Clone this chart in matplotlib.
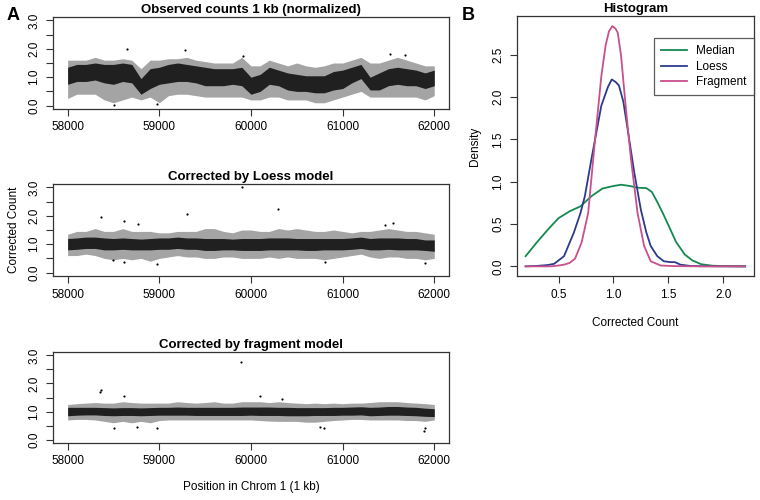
import matplotlib
matplotlib.use("Agg")
import matplotlib.pyplot as plt
import numpy as np

plt.rcParams["font.family"] = ["Liberation Sans", "DejaVu Sans"]

# positions (kb) where the scatter envelopes were read, every 100 kb
positions = list(range(58000, 62001, 100))

# observed counts: dense core band and sparse outer band
obs_core_lo = [0.75, 0.85, 0.85, 0.9, 0.8, 0.75, 0.85, 0.8, 0.4, 0.6, 0.75, 0.8, 0.85, 0.85,
               0.8, 0.7, 0.7, 0.7, 0.75, 0.7, 0.4, 0.5, 0.75, 0.7, 0.55, 0.5, 0.5, 0.45,
               0.45, 0.55, 0.6, 0.8, 0.95, 0.55, 0.55, 0.7, 0.75, 0.7, 0.7, 0.6, 0.7]
obs_core_hi = [1.35, 1.45, 1.45, 1.5, 1.45, 1.45, 1.5, 1.45, 0.95, 1.3, 1.35, 1.45, 1.5, 1.45,
               1.4, 1.35, 1.3, 1.3, 1.3, 1.35, 1.0, 1.1, 1.35, 1.25, 1.15, 1.1, 1.05, 1.05,
               1.05, 1.2, 1.25, 1.35, 1.45, 1.0, 1.15, 1.3, 1.35, 1.3, 1.25, 1.15, 1.25]
obs_outer_lo = [0.25, 0.4, 0.4, 0.4, 0.2, 0.1, 0.2, 0.3, 0.2, 0.3, 0.1, 0.35, 0.4, 0.4,
                0.35, 0.3, 0.3, 0.3, 0.3, 0.3, 0.2, 0.2, 0.3, 0.3, 0.2, 0.2, 0.2, 0.1,
                0.1, 0.2, 0.3, 0.4, 0.5, 0.3, 0.3, 0.3, 0.3, 0.3, 0.3, 0.2, 0.35]
obs_outer_hi = [1.6, 1.6, 1.6, 1.7, 1.6, 1.6, 1.65, 1.6, 1.3, 1.6, 1.6, 1.65, 1.65, 1.7,
                1.6, 1.55, 1.5, 1.5, 1.5, 1.7, 1.4, 1.4, 1.6, 1.5, 1.4, 1.5, 1.4, 1.35,
                1.4, 1.5, 1.5, 1.6, 1.7, 1.5, 1.5, 1.6, 1.7, 1.6, 1.5, 1.4, 1.4]
obs_out_x = [58650, 59280, 58510, 58980, 61520, 61680, 59910]
obs_out_y = [2.0, 1.95, 0.02, 0.05, 1.82, 1.78, 1.75]

# loess corrected
loe_core_lo = [0.8, 0.82, 0.85, 0.85, 0.8, 0.8, 0.82, 0.8, 0.8, 0.8, 0.82, 0.82, 0.85, 0.82,
               0.82, 0.78, 0.78, 0.8, 0.8, 0.78, 0.78, 0.78, 0.8, 0.8, 0.8, 0.8, 0.78, 0.78,
               0.8, 0.8, 0.8, 0.82, 0.85, 0.8, 0.8, 0.82, 0.8, 0.8, 0.8, 0.78, 0.75]
loe_core_hi = [1.2, 1.22, 1.25, 1.25, 1.22, 1.2, 1.22, 1.2, 1.18, 1.2, 1.22, 1.22, 1.25, 1.22,
               1.22, 1.2, 1.2, 1.2, 1.18, 1.2, 1.2, 1.2, 1.22, 1.22, 1.22, 1.2, 1.2, 1.2,
               1.2, 1.2, 1.2, 1.22, 1.25, 1.2, 1.22, 1.22, 1.22, 1.2, 1.2, 1.15, 1.15]
loe_outer_lo = [0.6, 0.6, 0.65, 0.6, 0.5, 0.45, 0.5, 0.45, 0.5, 0.4, 0.5, 0.55, 0.6, 0.55,
                0.55, 0.5, 0.5, 0.55, 0.55, 0.5, 0.5, 0.5, 0.55, 0.5, 0.55, 0.5, 0.5, 0.5,
                0.45, 0.5, 0.55, 0.6, 0.65, 0.55, 0.5, 0.55, 0.55, 0.5, 0.5, 0.45, 0.5]
loe_outer_hi = [1.35, 1.45, 1.45, 1.55, 1.45, 1.45, 1.55, 1.45, 1.45, 1.45, 1.4, 1.4, 1.45, 1.45,
                1.45, 1.55, 1.55, 1.45, 1.4, 1.5, 1.5, 1.45, 1.45, 1.55, 1.5, 1.55, 1.5, 1.45,
                1.45, 1.5, 1.45, 1.4, 1.45, 1.45, 1.5, 1.55, 1.5, 1.45, 1.45, 1.4, 1.35]
loe_out_x = [58360, 59300, 59900, 60300, 58620, 58770, 61550, 61460, 58500, 58970, 61900, 60810, 58620]
loe_out_y = [1.95, 2.07, 3.0, 2.25, 1.8, 1.72, 1.75, 1.68, 0.45, 0.3, 0.35, 0.38, 0.37]

# fragment corrected
fra_core_lo = [0.85, 0.87, 0.88, 0.88, 0.86, 0.85, 0.86, 0.86, 0.85, 0.86, 0.87, 0.87, 0.87, 0.87,
               0.86, 0.86, 0.86, 0.86, 0.86, 0.86, 0.87, 0.86, 0.86, 0.86, 0.85, 0.85, 0.85, 0.86,
               0.86, 0.86, 0.87, 0.87, 0.88, 0.85, 0.86, 0.87, 0.87, 0.86, 0.85, 0.83, 0.82]
fra_core_hi = [1.15, 1.15, 1.15, 1.15, 1.14, 1.13, 1.14, 1.14, 1.13, 1.14, 1.15, 1.15, 1.16, 1.15,
               1.15, 1.15, 1.15, 1.15, 1.15, 1.16, 1.16, 1.16, 1.16, 1.15, 1.15, 1.14, 1.14, 1.14,
               1.14, 1.15, 1.15, 1.16, 1.17, 1.15, 1.16, 1.18, 1.18, 1.16, 1.15, 1.12, 1.1]
fra_outer_lo = [0.7, 0.72, 0.72, 0.7, 0.65, 0.6, 0.65, 0.6, 0.65, 0.6, 0.68, 0.7, 0.7, 0.7,
                0.7, 0.7, 0.7, 0.7, 0.7, 0.7, 0.7, 0.68, 0.66, 0.65, 0.65, 0.65, 0.62, 0.62,
                0.65, 0.68, 0.7, 0.72, 0.72, 0.7, 0.7, 0.7, 0.7, 0.68, 0.68, 0.65, 0.7]
fra_outer_hi = [1.25, 1.28, 1.3, 1.32, 1.3, 1.3, 1.35, 1.32, 1.3, 1.3, 1.3, 1.3, 1.35, 1.32,
                1.3, 1.32, 1.35, 1.3, 1.3, 1.35, 1.35, 1.35, 1.32, 1.35, 1.32, 1.3, 1.28, 1.3,
                1.28, 1.3, 1.28, 1.3, 1.3, 1.32, 1.35, 1.35, 1.35, 1.32, 1.3, 1.28, 1.25]
fra_out_x = [58360, 58350, 59890, 58620, 60100, 60340, 58510, 58760, 58970, 61890, 61900, 60750, 60800]
fra_out_y = [1.78, 1.7, 2.75, 1.55, 1.57, 1.45, 0.4, 0.45, 0.4, 0.3, 0.4, 0.45, 0.42]

# density curves
med_x = [0.2, 0.3, 0.4, 0.5, 0.6, 0.7, 0.8, 0.9, 1.0, 1.07, 1.15, 1.22, 1.3, 1.35, 1.4, 1.45,
         1.5, 1.57, 1.65, 1.72, 1.8, 1.9, 2.0, 2.2]
med_y = [0.12, 0.28, 0.43, 0.57, 0.65, 0.71, 0.83, 0.92, 0.95, 0.965, 0.95, 0.93, 0.925, 0.88,
         0.76, 0.63, 0.49, 0.29, 0.14, 0.07, 0.025, 0.008, 0.003, 0.0]
loe_x = [0.2, 0.3, 0.4, 0.46, 0.55, 0.64, 0.7, 0.74, 0.8, 0.85, 0.89, 0.95, 0.985, 1.02, 1.05,
         1.09, 1.13, 1.19, 1.25, 1.3, 1.34, 1.4, 1.46, 1.52, 1.56, 1.61, 1.7, 1.8, 2.0, 2.2]
loe_y = [0.0, 0.005, 0.015, 0.03, 0.12, 0.4, 0.63, 0.83, 1.27, 1.62, 1.9, 2.12, 2.21, 2.18, 2.14,
         1.95, 1.62, 1.11, 0.67, 0.4, 0.24, 0.12, 0.06, 0.05, 0.05, 0.02, 0.005, 0.002, 0.0, 0.0]
fra_x = [0.2, 0.43, 0.5, 0.55, 0.6, 0.65, 0.71, 0.77, 0.83, 0.89, 0.93, 0.96, 0.99, 1.02, 1.04,
         1.07, 1.1, 1.13, 1.16, 1.22, 1.28, 1.34, 1.43, 1.55, 1.8, 2.2]
fra_y = [0.0, 0.0, 0.01, 0.02, 0.04, 0.09, 0.28, 0.63, 1.46, 2.25, 2.62, 2.78, 2.84, 2.81, 2.76,
         2.49, 2.06, 1.65, 1.27, 0.63, 0.24, 0.06, 0.01, 0.003, 0.0, 0.0]

EDGE = "#333333"


def r_style(ax):
    for s in ax.spines.values():
        s.set_color(EDGE)
        s.set_linewidth(0.9)
    ax.tick_params(direction="out", length=5, width=0.8, color=EDGE,
                   labelsize=8.5, pad=4)
    for lab in ax.get_yticklabels():
        lab.set_rotation(90)
        lab.set_va("center")


def scatter_panel(ax, title, core_lo, core_hi, outer_lo, outer_hi, out_x, out_y):
    # sparse outer spread in grey, dense core in near-black
    ax.fill_between(positions, outer_lo, outer_hi, color="#a4a4a4", lw=0)
    ax.fill_between(positions, core_lo, core_hi, color="#202020", lw=0)
    ax.scatter(out_x, out_y, s=2.5, color="black", lw=0)
    ax.set_xlim(57840, 62160)
    ax.set_ylim(-0.12, 3.12)
    ax.set_xticks(range(58000, 62001, 1000))
    ax.set_yticks(np.arange(0, 3.01, 0.5))
    ax.set_yticklabels(["0.0", "", "1.0", "", "2.0", "", "3.0"])
    ax.set_title(title, fontsize=9.5, fontweight="bold", pad=3)
    r_style(ax)


fig = plt.figure(figsize=(7.6, 5.0), dpi=100)

ax1 = fig.add_axes([0.0697, 0.782, 0.521, 0.184])
ax2 = fig.add_axes([0.0697, 0.448, 0.521, 0.184])
ax3 = fig.add_axes([0.0697, 0.114, 0.521, 0.182])
axb = fig.add_axes([0.680, 0.448, 0.312, 0.520])

scatter_panel(ax1, "Observed counts 1 kb (normalized)", obs_core_lo, obs_core_hi,
              obs_outer_lo, obs_outer_hi, obs_out_x, obs_out_y)
scatter_panel(ax2, "Corrected by Loess model", loe_core_lo, loe_core_hi,
              loe_outer_lo, loe_outer_hi, loe_out_x, loe_out_y)
scatter_panel(ax3, "Corrected by fragment model", fra_core_lo, fra_core_hi,
              fra_outer_lo, fra_outer_hi, fra_out_x, fra_out_y)
ax2.set_ylabel("Corrected Count", fontsize=8.5, labelpad=6)
ax3.set_xlabel("Position in Chrom 1 (1 kb)", fontsize=8.5, labelpad=10)

axb.plot(med_x, med_y, color="#14894f", lw=1.3, label="Median")
axb.plot(loe_x, loe_y, color="#2c3a8c", lw=1.3, label="Loess")
axb.plot(fra_x, fra_y, color="#c8508c", lw=1.3, label="Fragment")
axb.set_xlim(0.12, 2.28)
axb.set_ylim(-0.114, 2.96)
axb.set_xticks([0.5, 1.0, 1.5, 2.0])
axb.set_yticks(np.arange(0, 2.51, 0.5))
axb.set_yticklabels(["0.0", "0.5", "1.0", "1.5", "2.0", "2.5"])
axb.set_title("Histogram", fontsize=9.5, fontweight="bold", pad=3)
axb.set_xlabel("Corrected Count", fontsize=8.5, labelpad=12)
axb.set_ylabel("Density", fontsize=8.5, labelpad=8)
r_style(axb)
leg = axb.legend(loc="upper right", bbox_to_anchor=(1.0, 0.915), fontsize=8.5,
                 frameon=True, fancybox=False, handlelength=2.2, borderpad=0.6,
                 labelspacing=0.3, borderaxespad=0)
leg.get_frame().set_edgecolor(EDGE)
leg.get_frame().set_linewidth(0.9)

fig.text(0.008, 0.985, "A", fontsize=13, fontweight="bold", va="top")
fig.text(0.608, 0.985, "B", fontsize=13, fontweight="bold", va="top")

fig.savefig("out.png", dpi=100)
